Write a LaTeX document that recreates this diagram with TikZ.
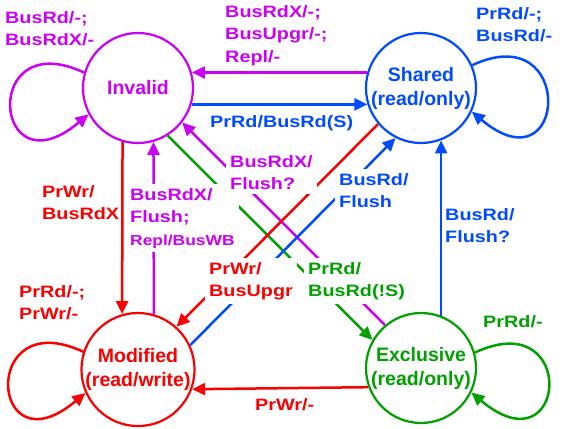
\documentclass[tikz,border=0pt]{standalone}
\usepackage{fontspec}
\setmainfont{Liberation Sans}
\newfontfamily\widesans[FakeStretch=1.2]{Liberation Sans}
\usepackage{tikz}
\usetikzlibrary{shapes}
\usetikzlibrary{positioning}
\usetikzlibrary{arrows.meta}

\definecolor{magC}{RGB}{204,0,245}
\definecolor{redC}{RGB}{250,0,0}
\definecolor{bluC}{RGB}{0,75,255}
\definecolor{greC}{RGB}{0,160,0}

\tikzset{
    state/.style={draw, circle, line width=2.2pt, minimum size=110pt, inner sep=0pt, align=center,
        font=\bfseries\fontsize{19.5}{24}\selectfont},
    lbl/.style={inner sep=0pt, anchor=north west, align=left,
        font=\widesans\bfseries\fontsize{16.5}{22.5}\selectfont},
    cut/.style={lbl, fill=white, inner sep=4pt, xshift=-4pt, yshift=4pt},
    edge/.style={line width=2.5pt, -{Triangle[length=13pt,width=12pt]}},
}

\begin{document}
\begin{tikzpicture}[x=1pt, y=1pt]

    \useasboundingbox (0,0) rectangle (577,-428);

    \node(I)[state, magC] at (138,-88) {Invalid};
    \node(S)[state, bluC, right=170.8pt of I] {Shared\\(read/only)};
    \node(M)[state, redC, below=167.8pt of I] {Modified\\(read/write)};
    \node(E)[state, greC, below=167.8pt of S] {Exclusive\\(read/only)};

    \draw[edge, magC] (S.164) -- (I.16);
    \draw[edge, bluC] (I.-17) -- (S.197);
    \draw[edge, redC] (I.254) -- (M.106);
    \draw[edge, magC] (M.74) -- (I.286);
    \draw[edge, bluC] (E.69) -- (S.291);
    \draw[edge, redC] (E.200) -- (M.340);
    \draw[edge, magC] (E.130) -- (I.-38);
    \draw[edge, greC] (I.-58) -- (E.150);
    \draw[edge, redC] (S.220) -- (M.48);
    \draw[edge, bluC] (M.25) -- (S.243);

    \draw[edge, magC] (I.164) .. controls +(155:115) and +(220:125) .. (I.208);
    \draw[edge, bluC] (S.24) .. controls +(25:115) and +(-40:125) .. (S.-25);
    \draw[edge, redC] (M.162) .. controls +(155:115) and +(220:125) .. (M.204);
    \draw[edge, greC] (E.16) .. controls +(25:115) and +(-40:125) .. (E.-26);

    \node(lI)[lbl, text=magC] at (5,-11) {BusRd/-;\\BusRdX/-};
    \node(lSI)[lbl, text=magC] at (225,-5) {BusRdX/-;\\BusUpgr/-;\\Repl/-};
    \node(lS)[lbl, text=bluC] at (476,-7) {PrRd/-;\\BusRd/-};
    \node(lIS)[lbl, text=bluC] at (210,-115) {PrRd/BusRd(S)};
    \node(lIM)[lbl, text=redC] at (42,-185) {PrWr/\\BusRdX};
    \node(lMI)[cut, text=magC] at (130,-188) {BusRdX/\\Flush;\\{\fontsize{14.5}{20}\selectfont Repl/BusWB}};
    \node(lEI)[cut, text=magC] at (230,-155) {BusRdX/\\Flush?};
    \node(lMS)[cut, text=bluC] at (339,-173) {BusRd/\\Flush};
    \node(lES)[lbl, text=bluC] at (445,-208) {BusRd/\\Flush?};
    \node(lSM)[cut, text=redC] at (209,-262) {PrWr/\\BusUpgr};
    \node(lIE)[cut, text=greC] at (308,-262) {PrRd/\\BusRd(!S)};
    \node(lM)[lbl, text=redC] at (19,-285) {PrRd/-;\\PrWr/-};
    \node(lE)[lbl, text=greC] at (483,-315) {PrRd/-};
    \node(lEM)[lbl, text=redC] at (255,-398) {PrWr/-};

\end{tikzpicture}
\end{document}
